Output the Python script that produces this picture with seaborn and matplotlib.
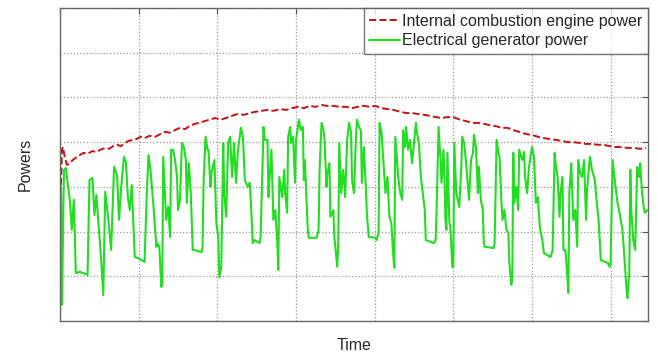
import numpy as np
import pandas as pd
import seaborn as sns
import matplotlib
matplotlib.use("Agg")
import matplotlib.pyplot as plt

# engine power (dashed red)
ice_time = [1, 2, 3, 5, 7, 10, 13, 16, 20, 24, 28, 33, 37, 41, 46, 50, 54, 58, 62, 66,
            70, 74, 78, 82, 86, 91, 97, 102, 107, 112, 117, 122, 127, 132, 137, 142, 147, 152, 158, 163,
            169, 175, 181, 187, 193, 199, 205, 211, 217, 224, 230, 236, 242, 248, 254, 260, 266, 272, 278, 285,
            291, 297, 303, 309, 315, 321, 327, 333, 339, 346, 352, 358, 364, 370, 376, 382, 388, 394, 400, 407,
            413, 419, 425, 431, 437, 443, 449, 455, 461, 467, 474, 480, 486, 492, 498, 504, 510, 516, 522, 529,
            535, 541, 547, 553, 559, 565, 571, 577, 583, 590, 596]
ice_power = [30.4, 38.3, 38.9, 36.5, 34.9, 35.3, 36.0, 36.5, 37.1, 37.6, 37.4, 38.0, 37.8, 38.3, 38.7, 38.5, 39.1, 39.4, 39.1, 39.8,
             40.3, 40.5, 40.7, 41.2, 40.9, 41.4, 41.2, 41.8, 42.3, 42.1, 42.7, 43.2, 42.9, 43.6, 44.1, 44.3, 44.7, 45.0, 45.4, 45.0,
             45.4, 45.9, 46.3, 46.1, 46.5, 46.8, 47.0, 47.2, 47.0, 47.4, 47.2, 47.6, 47.9, 47.6, 48.1, 47.9, 48.3, 48.1, 48.1, 47.9,
             47.9, 47.6, 47.9, 48.1, 47.9, 48.1, 47.6, 47.4, 47.2, 46.8, 46.5, 46.5, 46.3, 46.1, 45.9, 45.6, 45.4, 45.6, 45.6, 45.0,
             44.7, 44.3, 44.3, 44.1, 43.8, 43.6, 43.2, 43.2, 42.7, 42.3, 41.8, 41.6, 41.2, 40.9, 40.7, 40.5, 40.3, 40.0, 40.0, 39.8,
             39.6, 39.6, 39.4, 39.4, 39.1, 38.9, 38.9, 38.7, 38.7, 38.5, 38.7]

# generator power (green)
gen_time = [1, 2, 4, 6, 8, 10, 12, 14, 15, 16, 20, 26, 28, 30, 33, 35, 37, 39, 42, 44,
            46, 49, 52, 55, 58, 60, 62, 65, 67, 69, 71, 73, 76, 81, 86, 88, 90, 92, 95, 98,
            99, 101, 103, 104, 105, 108, 110, 112, 113, 115, 117, 119, 120, 122, 124, 126, 128, 129, 131, 133,
            135, 136, 144, 145, 146, 148, 150, 151, 153, 154, 157, 159, 161, 162, 164, 166, 167, 169, 171, 173,
            175, 177, 179, 181, 184, 186, 188, 191, 193, 195, 196, 198, 203, 204, 207, 208, 211, 212, 213, 215,
            217, 219, 221, 222, 223, 226, 228, 229, 231, 232, 234, 235, 237, 239, 240, 243, 245, 247, 248, 249,
            252, 253, 261, 263, 264, 266, 268, 269, 271, 272, 274, 275, 278, 279, 282, 283, 284, 286, 288, 290,
            292, 294, 296, 297, 299, 301, 302, 304, 306, 307, 309, 311, 312, 314, 321, 322, 324, 325, 327, 329,
            331, 333, 335, 337, 339, 340, 341, 344, 346, 348, 349, 351, 352, 354, 356, 358, 360, 362, 363, 365,
            367, 369, 371, 372, 380, 382, 383, 385, 387, 388, 390, 391, 392, 393, 394, 396, 397, 399, 400, 401,
            403, 406, 408, 409, 411, 413, 415, 416, 418, 420, 421, 423, 425, 426, 428, 430, 431, 432, 441, 442,
            444, 446, 447, 449, 450, 452, 454, 456, 457, 459, 460, 461, 462, 464, 466, 467, 470, 472, 473, 475,
            477, 480, 482, 484, 486, 488, 491, 492, 499, 501, 503, 504, 506, 508, 509, 511, 512, 514, 516, 517,
            518, 520, 522, 524, 526, 527, 529, 531, 533, 535, 536, 538, 539, 541, 544, 545, 548, 550, 557, 559,
            560, 562, 565, 567, 569, 572, 574, 576, 577, 579, 580, 581, 583, 585, 587, 589, 590, 592, 594, 595,
            597]
gen_power = [30.0, 3.6, 33.8, 34.2, 30.4, 27.1, 20.4, 27.1, 19.9, 10.7, 11.0, 10.5, 10.3, 31.5, 32.0, 23.7, 28.2, 22.1, 13.2, 5.8,
             28.9, 23.0, 15.9, 34.5, 32.7, 22.6, 29.3, 36.7, 35.6, 27.7, 24.8, 30.4, 14.3, 13.9, 13.2, 27.1, 37.1, 33.8, 25.9, 16.6,
             17.4, 16.6, 7.6, 8.3, 36.7, 22.6, 25.5, 18.8, 38.3, 38.3, 36.0, 32.2, 24.8, 27.1, 39.8, 38.9, 36.0, 26.4, 35.3, 28.6,
             15.9, 15.9, 15.4, 16.6, 30.9, 41.2, 38.3, 38.3, 30.0, 33.1, 36.0, 21.9, 18.8, 9.8, 12.1, 39.8, 28.6, 23.3, 39.8, 41.2,
             32.2, 39.8, 30.9, 38.3, 43.2, 41.2, 31.5, 30.0, 30.9, 22.6, 17.4, 18.1, 17.4, 18.8, 43.4, 40.5, 40.5, 27.7, 31.5, 38.3,
             22.6, 24.8, 17.4, 11.4, 32.2, 27.7, 33.8, 28.6, 24.2, 41.2, 43.4, 39.8, 41.2, 30.9, 40.5, 45.0, 42.7, 43.4, 31.5, 36.0,
             20.4, 18.6, 18.6, 20.4, 33.8, 44.3, 42.7, 40.5, 30.0, 33.1, 35.3, 23.3, 24.8, 18.8, 12.1, 17.4, 39.8, 28.6, 33.8, 27.7,
             40.5, 44.3, 42.1, 31.5, 28.6, 41.2, 45.0, 43.4, 42.7, 30.9, 38.9, 30.0, 24.2, 18.8, 18.6, 18.1, 19.7, 44.3, 42.1, 35.3,
             28.6, 32.2, 23.3, 21.9, 14.3, 11.9, 41.2, 32.2, 28.6, 27.1, 42.7, 38.9, 43.4, 38.3, 40.5, 35.3, 39.8, 44.3, 42.1, 39.8,
             32.2, 28.6, 24.8, 18.1, 17.4, 18.1, 24.8, 43.4, 36.0, 30.9, 38.3, 31.5, 22.6, 20.4, 37.6, 21.9, 21.0, 12.1, 12.1, 39.8,
             28.6, 25.5, 33.8, 41.2, 39.8, 35.3, 30.0, 27.1, 36.0, 37.6, 41.6, 38.9, 28.6, 34.5, 27.1, 24.8, 17.4, 16.6, 16.3, 17.4,
             40.5, 37.6, 36.7, 26.4, 22.6, 24.8, 20.4, 19.7, 13.0, 8.1, 9.8, 37.6, 26.4, 30.0, 24.8, 38.3, 36.0, 37.8, 32.2, 28.6,
             34.5, 38.9, 36.7, 26.4, 27.7, 21.0, 17.4, 15.2, 14.3, 15.9, 37.6, 35.3, 32.2, 23.3, 28.6, 32.2, 15.9, 15.9, 9.8, 6.3,
             28.6, 35.3, 22.6, 24.8, 16.6, 36.0, 33.1, 32.2, 36.0, 22.6, 29.3, 34.5, 36.7, 33.8, 31.5, 28.6, 21.9, 13.6, 13.0, 12.1,
             13.2, 36.0, 30.0, 26.4, 24.2, 20.4, 14.3, 7.6, 5.1, 10.7, 33.8, 24.8, 18.1, 15.9, 34.5, 32.2, 35.3, 28.6, 24.8, 24.2,
             24.8]

x_ticks = [0, 80, 160, 240, 320, 400, 480, 560]
y_ticks = [0, 10, 20, 30, 40, 50, 60, 70]

ice = pd.DataFrame({"Time": ice_time, "Power": ice_power})
gen = pd.DataFrame({"Time": gen_time, "Power": gen_power})

sns.set_style("white")
plt.rcParams["font.family"] = ["Liberation Sans", "DejaVu Sans"]

fig = plt.figure(figsize=(6.58, 3.58), dpi=100)
ax = fig.add_axes([0.0912, 0.1034, 0.8936, 0.8743])

sns.lineplot(data=ice, x="Time", y="Power", ax=ax, color="#c41414", linestyle="--",
             linewidth=1.4, estimator=None, sort=False, label="Internal combustion engine power")
sns.lineplot(data=gen, x="Time", y="Power", ax=ax, color="#22dd22",
             linewidth=1.5, estimator=None, sort=False, label="Electrical generator power")

ax.set_xlim(0, 598)
ax.set_ylim(0, 70)
ax.set_xticks(x_ticks)
ax.set_yticks(y_ticks)
ax.set_xticklabels([])
ax.set_yticklabels([])
ax.tick_params(direction="in", length=4, color="#555555", top=True, right=True)
ax.grid(True, linestyle=":", color="#999999", linewidth=0.9)
for s in ax.spines.values():
    s.set_color("#666666")
    s.set_linewidth(1.0)

ax.set_xlabel("Time", fontsize=11.5, labelpad=9)
ax.set_ylabel("Powers", fontsize=11.5, labelpad=16)

leg = ax.legend(loc="upper right", fontsize=11.5, frameon=True, fancybox=False,
                borderaxespad=0, handlelength=1.9, handletextpad=0.15,
                borderpad=0.35, labelspacing=0.3)
leg.get_frame().set_edgecolor("#555555")
leg.get_frame().set_linewidth(1.0)

fig.savefig("out.png", dpi=100)
